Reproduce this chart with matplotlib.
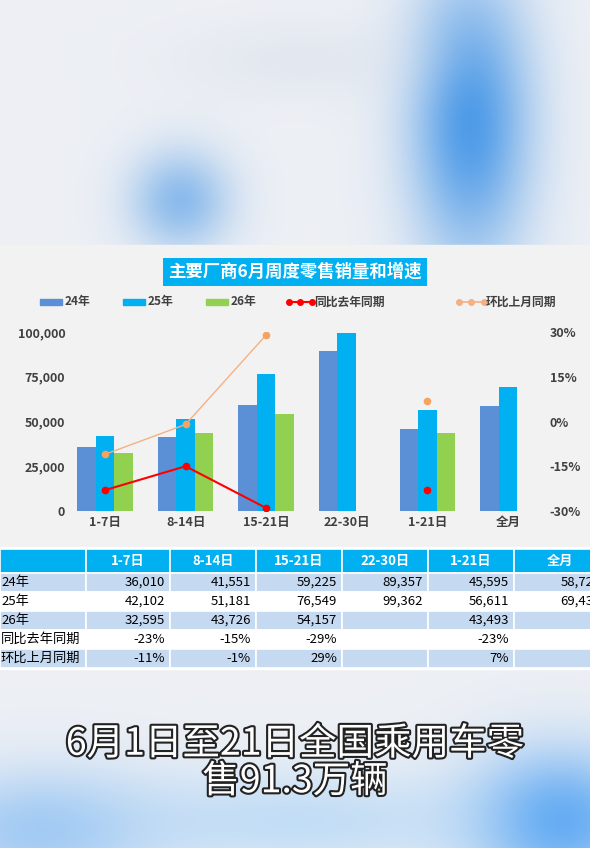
import numpy as np
import matplotlib
matplotlib.use("Agg")
import matplotlib.pyplot as plt
import matplotlib.patheffects as pe
from matplotlib.patches import Rectangle

plt.rcParams['font.family'] = ['Noto Sans CJK SC', 'DejaVu Sans']

categories = ['1-7日', '8-14日', '15-21日', '22-30日', '1-21日', '全月']
s24 = [36010, 41551, 59225, 89357, 45595, 58723]
s25 = [42102, 51181, 76549, 99362, 56611, 69431]
s26 = [32595, 43726, 54157, None, 43493, None]
yoy = [-23, -15, -29, None, -23, None]
mom = [-11, -1, 29, None, 7, None]
row_labels = ['24年', '25年', '26年', '同比去年同期', '环比上月同期']

W, H = 590, 848
fig = plt.figure(figsize=(W/100, H/100), dpi=100)

bg = fig.add_axes([0, 0, 1, 1])
yy, xx = np.mgrid[0:H, 0:W]
img = np.ones((H, W, 3)) * np.array([0.93, 0.94, 0.96])
def blob(cx, cy, sx, sy, col, a):
    g = np.exp(-(((xx-cx)/sx)**2 + ((yy-cy)/sy)**2))[..., None] * a
    return g, np.array(col)
for cx, cy, sx, sy, col, a in [(470, 120, 60, 140, (0.2, 0.55, 0.9), 0.85),
                               (180, 200, 50, 50, (0.3, 0.6, 0.9), 0.6),
                               (300, 60, 120, 40, (0.85, 0.88, 0.92), 0.5),
                               (560, 820, 90, 70, (0.25, 0.6, 0.95), 0.8),
                               (40, 830, 120, 60, (0.45, 0.7, 0.95), 0.6),
                               (300, 820, 200, 50, (0.6, 0.8, 0.97), 0.5)]:
    g, c = blob(cx, cy, sx, sy, col, a)
    img = img*(1-g) + c*g
bg.imshow(img, extent=[0, W, H, 0], aspect='auto')
bg.set_xlim(0, W); bg.set_ylim(H, 0); bg.axis('off')

bg.add_patch(Rectangle((0, 245), W, 302, color='#f2f2f2', zorder=2))
bg.add_patch(Rectangle((0, 547), W, 122, color='#ffffff', zorder=2))

bg.text(295, 272, '主要厂商6月周度零售销量和增速', ha='center', va='center', fontsize=12.5,
        color='white', fontweight='bold', zorder=5,
        bbox=dict(boxstyle='square,pad=0.3', fc='#00b0f0', ec='none'))

ly = 302
def leg_patch(x, col, label):
    bg.add_patch(Rectangle((x, ly-3), 22, 6, color=col, zorder=5))
    bg.text(x+25, ly, label, va='center', fontsize=8.5, color='#404040', fontweight='bold', zorder=5)
leg_patch(40, '#5b8fd6', '24年')
leg_patch(123, '#00b0f0', '25年')
leg_patch(206, '#92d050', '26年')
bg.plot([289, 312], [ly, ly], color='red', lw=1.5, zorder=5)
for xm in [289, 300, 312]:
    bg.plot([xm], [ly], 'o', color='red', ms=4, zorder=5)
bg.text(314, ly, '同比去年同期', va='center', fontsize=8.5, color='#404040', fontweight='bold', zorder=5)
bg.plot([459, 484], [ly, ly], color='#f4b183', lw=1.2, zorder=5)
for xm in [459, 471, 484]:
    bg.plot([xm], [ly], 'o', color='#f4b183', ms=4, zorder=5)
bg.text(486, ly, '环比上月同期', va='center', fontsize=8.5, color='#404040', fontweight='bold', zorder=5)

x0, x1 = 70, 545
ytop, ybot = 332, 511
ax = fig.add_axes([x0/W, 1-ybot/H, (x1-x0)/W, (ybot-ytop)/H])
ax.set_zorder(3)
ax.patch.set_alpha(0)
idx = np.arange(len(categories))
bw = 0.23
ax.bar(idx-bw, s24, bw, color='#5b8fd6')
ax.bar(idx, s25, bw, color='#00b0f0')
v26 = [np.nan if v is None else v for v in s26]
ax.bar(idx+bw, v26, bw, color='#92d050')
ax.set_xlim(-0.434, 5.46)
ax.set_ylim(0, 100000)
ax.set_yticks([0, 25000, 50000, 75000, 100000])
ax.set_yticklabels(['0', '25,000', '50,000', '75,000', '100,000'])
ax.set_xticks(idx)
ax.set_xticklabels(categories)
for s in ax.spines.values():
    s.set_visible(False)
ax.tick_params(length=0, labelsize=9, colors='#404040')
for t in ax.get_xticklabels() + ax.get_yticklabels():
    t.set_fontweight('bold')

ax2 = ax.twinx()
ax2.set_ylim(-30, 30)
ax2.set_yticks([-30, -15, 0, 15, 30])
ax2.set_yticklabels(['-30%', '-15%', '0%', '15%', '30%'])
for s in ax2.spines.values():
    s.set_visible(False)
ax2.tick_params(length=0, labelsize=9, colors='#404040')
for t in ax2.get_yticklabels():
    t.set_fontweight('bold')
yv = [np.nan if v is None else v for v in yoy]
mv = [np.nan if v is None else v for v in mom]
ax2.plot(idx, mv, color='#f4b183', lw=1, marker='o', ms=4.5, mec='#f4a460', mfc='#f4a460')
ax2.plot(idx, yv, color='red', lw=1.5, marker='o', ms=4.5)

colx = [0, 86, 170, 256, 342, 428, 514, 606]
ys = [549, 573, 592, 611, 630, 649, 668]
def cell(r, c, text, fc, color='black', ha='right', bold=False, size=9.5):
    xa, xb = colx[c], colx[c+1]
    ya, yb = ys[r], ys[r+1]
    bg.add_patch(Rectangle((xa, ya), xb-xa, yb-ya, fc=fc, ec='white', lw=1.2, zorder=4))
    if text:
        tx = xb-5 if ha == 'right' else ((xa+xb)/2 if ha == 'center' else xa+1)
        bg.text(tx, (ya+yb)/2, text, ha=ha, va='center', fontsize=size, color=color,
                fontweight='bold' if bold else 'normal', zorder=5)
cell(0, 0, '', '#00b0f0')
for j, c in enumerate(categories):
    cell(0, j+1, c, '#00b0f0', color='white', ha='center', bold=True)
def fmt(v):
    return '' if v is None else f'{v:,}'
def pct(v):
    return '' if v is None else f'{v}%'
rows = [[fmt(v) for v in s24], [fmt(v) for v in s25], [fmt(v) for v in s26],
        [pct(v) for v in yoy], [pct(v) for v in mom]]
for r, (lab, vals) in enumerate(zip(row_labels, rows)):
    fc = '#c5d9f1' if r % 2 == 0 else '#ffffff'
    cell(r+1, 0, lab, fc, ha='left')
    for j, v in enumerate(vals):
        cell(r+1, j+1, v, fc)

cap = bg.text(295, 763, '6月1日至21日全国乘用车零\n售91.3万辆', ha='center', va='center',
              fontsize=27, color='white', linespacing=0.95, zorder=6)
cap.set_path_effects([pe.withStroke(linewidth=3, foreground='#222222')])

fig.savefig('out.png', dpi=100)
